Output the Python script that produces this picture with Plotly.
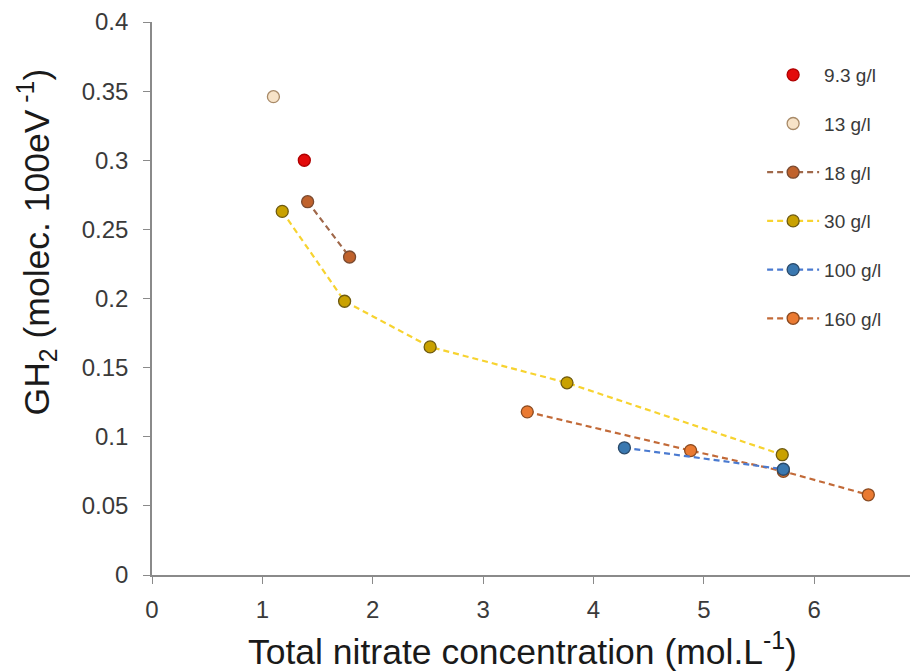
import plotly.graph_objects as go

# Data
names = ["9.3 g/l", "13 g/l", "18 g/l", "30 g/l", "100 g/l", "160 g/l"]
x_93 = [1.38]
y_93 = [0.300]
x_13 = [1.10]
y_13 = [0.346]
x_18 = [1.41, 1.79]
y_18 = [0.270, 0.230]
x_30 = [1.18, 1.745, 2.52, 3.76, 5.71]
y_30 = [0.263, 0.198, 0.165, 0.139, 0.087]
x_100 = [4.28, 5.72]
y_100 = [0.092, 0.0765]
x_160 = [3.40, 4.88, 5.72, 6.49]
y_160 = [0.118, 0.090, 0.075, 0.058]

x_title = "Total nitrate concentration (mol.L<sup>-1</sup>)"
y_title = "GH<sub>2</sub> (molec. 100eV<sup> -1</sup>)"

series = [
    (names[0], x_93, y_93, "markers", "#e30b0b", "#b00000", None),
    (names[1], x_13, y_13, "markers", "#f7e3c8", "#a88a68", None),
    (names[2], x_18, y_18, "lines+markers", "#c0622c", "#7a4a30", "#a0684a"),
    (names[3], x_30, y_30, "lines+markers", "#c9a100", "#6e5a10", "#f7d330"),
    (names[4], x_100, y_100, "lines+markers", "#3a78b0", "#2a4a6a", "#4a7ad0"),
    (names[5], x_160, y_160, "lines+markers", "#ea7a32", "#8a4a20", "#c26a38"),
]

fig = go.Figure()
order = [0, 1, 2, 3, 5, 4]  # blue on top of orange
for i in order:
    name, xs, ys, mode, fill, edge, lc = series[i]
    fig.add_trace(go.Scatter(
        x=xs, y=ys, mode=mode, name=name, legendgroup=name, legendrank=i,
        marker=dict(size=12, color=fill, line=dict(color=edge, width=1.3)),
        line=dict(color=lc, width=2.2, dash="6px,4px") if lc else None,
        cliponaxis=False,
    ))

font = "Arial, Liberation Sans, sans-serif"
axis_common = dict(showgrid=False, zeroline=False, showline=True, automargin=False,
                   linecolor="#8a8a8a", linewidth=1.6, ticks="outside",
                   ticklen=7, tickcolor="#8a8a8a", tickwidth=1.2,
                   tickfont=dict(size=24, color="#3a3a3a", family=font))
fig.update_layout(
    width=918, height=671,
    margin=dict(l=144, r=8, t=14, b=104, autoexpand=False),
    paper_bgcolor="white", plot_bgcolor="white",
    font=dict(family=font, color="#333333", size=16),
    showlegend=True,
    legend=dict(x=0.7965, y=0.9386, xanchor="left", yanchor="top",
                font=dict(size=19, color="#3a3a3a"), itemwidth=52,
                tracegroupgap=21, bgcolor="rgba(0,0,0,0)"),
    xaxis=dict(range=[0, 6.94], dtick=1, tick0=0, ticklabelstandoff=5, **axis_common),
    yaxis=dict(range=[0, 0.4], dtick=0.05, tick0=0, ticklabelstandoff=10, **axis_common),
    annotations=[
        dict(text=x_title, xref="paper", yref="paper", x=0.484, y=-0.134,
             xanchor="center", yanchor="middle", showarrow=False,
             font=dict(size=35.5, color="#1a1a1a", family=font)),
        dict(text=y_title, xref="paper", yref="paper", x=-0.151, y=0.602,
             xanchor="center", yanchor="middle", showarrow=False, textangle=-90,
             font=dict(size=35.5, color="#1a1a1a", family=font)),
    ],
)

fig.write_html("out.html")
